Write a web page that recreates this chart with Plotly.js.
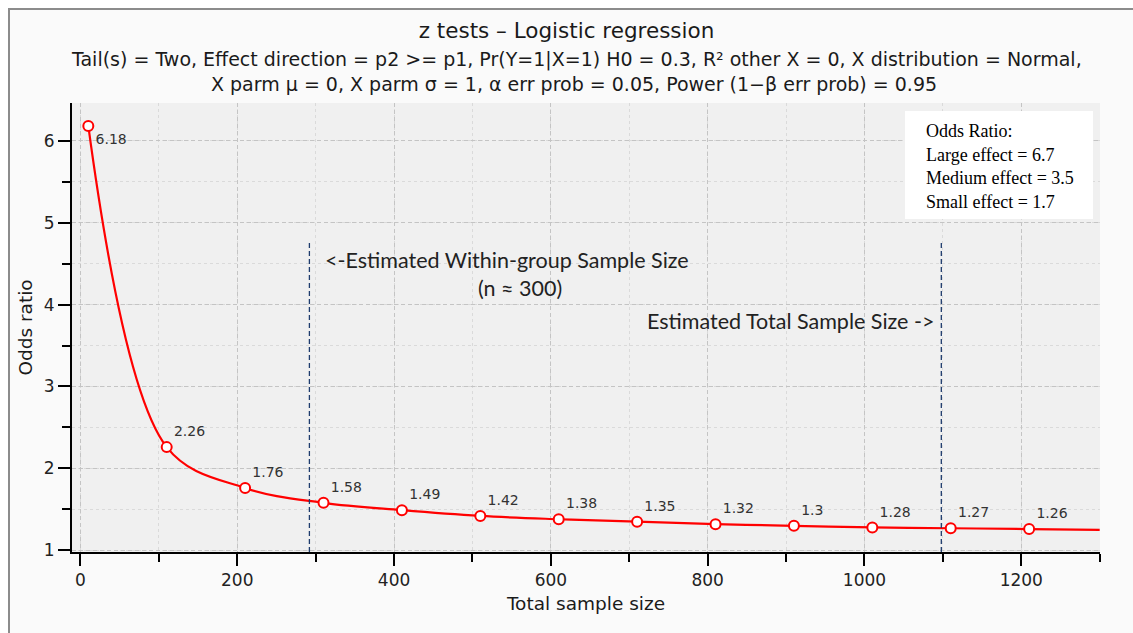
<!DOCTYPE html>
<html>
<head>
<meta charset="utf-8">
<script src="https://cdn.plot.ly/plotly-3.0.1.min.js"></script>
<style>
  html, body { margin: 0; padding: 0; background: #ffffff; }
  #frame { position: absolute; left: 8px; top: 8px; width: 1125px; height: 625px;
           background: #fafafa; border-top: 2px solid #8c8c8c; border-left: 2px solid #8c8c8c; box-sizing: border-box; }
  #chart { position: absolute; left: 0; top: 0; width: 1133px; height: 633px; }
</style>
</head>
<body>
<div id="frame"></div>
<div id="chart"></div>
<script>
// Data
const sampleSize = [10, 110, 210, 310, 410, 510, 610, 710, 810, 910, 1010, 1110, 1210];
const oddsRatio  = [6.18, 2.26, 1.76, 1.58, 1.49, 1.42, 1.38, 1.35, 1.32, 1.3, 1.28, 1.27, 1.26];
const pointLabels = ['6.18', '2.26', '1.76', '1.58', '1.49', '1.42', '1.38', '1.35', '1.32', '1.3', '1.28', '1.27', '1.26'];
// curve continues to the right edge of the plot
const curveX = [10, 110, 210, 310, 410, 510, 610, 710, 810, 910, 1010, 1110, 1210, 1300];
const curveY = [6.18, 2.26, 1.76, 1.58, 1.49, 1.42, 1.38, 1.35, 1.32, 1.3, 1.28, 1.27, 1.26, 1.25];
// reference lines (estimated sample sizes)
const refLineX = [292, 1098];
const refLineTop = 4.75;
const legendLines = ['Odds Ratio:', 'Large effect = 6.7', 'Medium effect = 3.5', 'Small effect = 1.7'];
const xTicks = [0, 200, 400, 600, 800, 1000, 1200];
const yTicks = [1, 2, 3, 4, 5, 6];

const textPos = pointLabels.map((_, i) => i === 0 ? 'bottom right' : 'top right');

const traces = [
  {
    x: curveX, y: curveY, type: 'scatter', mode: 'lines',
    line: { color: '#ff0000', width: 2.2, shape: 'spline', smoothing: 1 },
    hoverinfo: 'skip', showlegend: false
  },
  {
    x: sampleSize, y: oddsRatio, type: 'scatter', mode: 'markers+text',
    text: pointLabels, textposition: textPos,
    textfont: { family: 'DejaVu Sans', size: 14, color: '#333333' },
    marker: { symbol: 'circle', size: 10, color: '#ffffff', line: { color: '#ff0000', width: 2 } },
    showlegend: false
  }
];

const shapes = refLineX.map(x => ({
  type: 'line', xref: 'x', yref: 'y', x0: x, x1: x, y0: 0.98, y1: refLineTop,
  line: { color: '#1f3c6e', width: 1.3, dash: '5px,3px' }
}));
// legend box
shapes.push({
  type: 'rect', xref: 'paper', yref: 'paper',
  x0: (905 - 72) / 1028, x1: (1093 - 72) / 1028,
  y0: (552 - 219) / 449, y1: (552 - 111) / 449,
  fillcolor: '#ffffff', line: { width: 0 }, layer: 'above'
});

const pyTop = 552, ph = 449;
const py = v => (pyTop - v) / ph;

const annotations = [
  { text: 'Tail(s) = Two, Effect direction = p2 >= p1, Pr(Y=1|X=1) H0 = 0.3, R² other X = 0, X distribution = Normal,',
    xref: 'paper', yref: 'paper', x: (576 - 72) / 1028, y: py(60), xanchor: 'center', yanchor: 'middle', showarrow: false,
    font: { family: 'DejaVu Sans', size: 19, color: '#1a1a1a' } },
  { text: 'X parm μ = 0, X parm σ = 1, α err prob = 0.05, Power (1−β err prob) = 0.95',
    xref: 'paper', yref: 'paper', x: (574 - 72) / 1028, y: py(84), xanchor: 'center', yanchor: 'middle', showarrow: false,
    font: { family: 'DejaVu Sans', size: 19, color: '#1a1a1a' } },
  { text: '&lt;-Estimated Within-group Sample Size', xref: 'x', yref: 'paper', x: refLineX[0], y: py(260),
    xanchor: 'left', yanchor: 'middle', showarrow: false, xshift: 14,
    font: { family: 'Lato', size: 21.5, color: '#222222' } },
  { text: '(n ≈ 300)', xref: 'paper', yref: 'paper', x: (520 - 72) / 1028, y: py(288),
    xanchor: 'center', yanchor: 'middle', showarrow: false,
    font: { family: 'Lato', size: 21.5, color: '#222222' } },
  { text: 'Estimated Total Sample Size -&gt;', xref: 'paper', yref: 'paper', x: (936 - 72) / 1028, y: py(321),
    xanchor: 'right', yanchor: 'middle', showarrow: false,
    font: { family: 'Lato', size: 21.5, color: '#222222' } }
];
legendLines.forEach((t, i) => {
  annotations.push({
    text: t, xref: 'paper', yref: 'paper', x: (924 - 72) / 1028, y: py(131 + i * 23.5),
    xanchor: 'left', yanchor: 'middle', showarrow: false,
    font: { family: 'Liberation Serif', size: 18, color: '#000000' }
  });
});

const layout = {
  width: 1133, height: 633,
  margin: { l: 72, r: 33, t: 103, b: 81 },
  paper_bgcolor: 'rgba(0,0,0,0)',
  plot_bgcolor: '#f0f0f0',
  title: { text: 'z tests – Logistic regression', x: 0.5, xanchor: 'center', y: 1 - 30 / 633, yanchor: 'middle',
           font: { family: 'DejaVu Sans', size: 21.5, color: '#1a1a1a' } },
  xaxis: {
    range: [-10.8, 1300.4], tickvals: xTicks, ticktext: xTicks.map(String),
    ticks: 'outside', ticklen: 12, tickwidth: 2, tickcolor: '#000',
    showline: true, linecolor: '#000', linewidth: 2,
    showgrid: true, gridcolor: '#c4c4c4', griddash: '4px,3px', gridwidth: 1,
    zeroline: false,
    minor: { dtick: 100, tick0: 0, ticks: 'outside', ticklen: 8, tickwidth: 2, tickcolor: '#000',
             showgrid: true, gridcolor: '#dadada', griddash: 'dot', gridwidth: 1 },
    tickfont: { family: 'DejaVu Sans', size: 17, color: '#222' },
    title: { text: 'Total sample size', font: { family: 'DejaVu Sans', size: 18.5, color: '#1a1a1a' }, standoff: 8 }
  },
  yaxis: {
    range: [0.98, 6.46], tickvals: yTicks, ticktext: yTicks.map(String),
    ticks: 'outside', ticklen: 12, tickwidth: 2, tickcolor: '#000',
    showline: true, linecolor: '#000', linewidth: 2,
    showgrid: true, gridcolor: '#c4c4c4', griddash: '4px,3px', gridwidth: 1,
    zeroline: false,
    minor: { dtick: 0.5, tick0: 1, ticks: 'outside', ticklen: 8, tickwidth: 2, tickcolor: '#000',
             showgrid: true, gridcolor: '#dadada', griddash: 'dot', gridwidth: 1 },
    tickfont: { family: 'DejaVu Sans', size: 17, color: '#222' },
    title: { text: 'Odds ratio', font: { family: 'DejaVu Sans', size: 18.5, color: '#1a1a1a' }, standoff: 6 }
  },
  shapes: shapes,
  annotations: annotations
};

Plotly.newPlot('chart', traces, layout, { displayModeBar: false, staticPlot: true });
</script>
</body>
</html>
